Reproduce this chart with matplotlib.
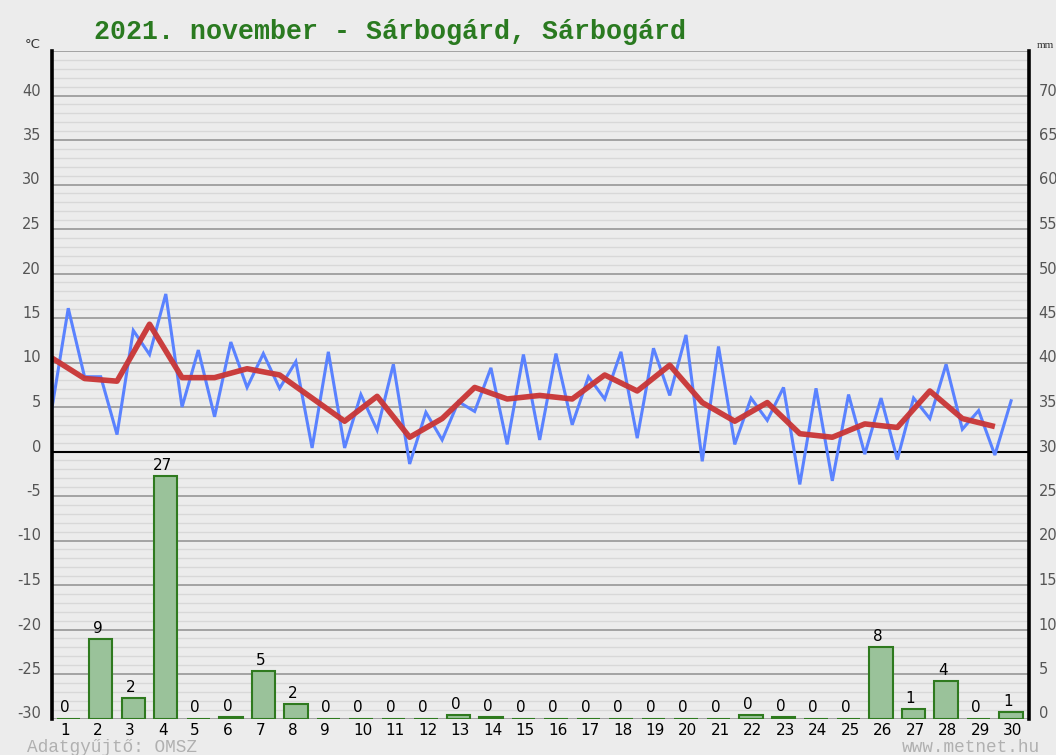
import matplotlib
matplotlib.use("Agg")
import matplotlib.pyplot as plt
from matplotlib.transforms import ScaledTranslation
import numpy as np

# ---- data ----
days = list(range(1, 31))
tmin = [4.9, 8.4, 1.9, 10.9, 5.0, 3.9, 7.2, 7.1, 0.4, 0.4,
        2.4, -1.4, 1.3, 4.5, 0.8, 1.3, 3.0, 5.9, 1.5, 6.3,
        -1.1, 0.8, 3.5, -3.7, -3.3, -0.3, -0.9, 3.7, 2.5, -0.4]
tmax = [16.1, 8.4, 13.6, 17.7, 11.4, 12.3, 11.0, 10.1, 11.2, 6.4,
        9.8, 4.4, 5.6, 9.4, 10.9, 11.0, 8.4, 11.2, 11.6, 13.1,
        11.8, 6.0, 7.2, 7.1, 6.4, 6.0, 6.0, 9.8, 4.6, 5.7]
tmean = [10.5, 8.2, 7.9, 14.3, 8.3, 8.3, 9.3, 8.6, 6.0, 3.4,
         6.2, 1.6, 3.7, 7.2, 5.9, 6.3, 5.9, 8.6, 6.8, 9.7,
         5.5, 3.4, 5.5, 2.0, 1.6, 3.1, 2.7, 6.8, 3.7, 2.8]
precip = [0, 8.9, 2.3, 27.3, 0, 0.2, 5.3, 1.6, 0, 0,
          0, 0, 0.4, 0.2, 0, 0, 0, 0, 0, 0,
          0, 0.4, 0.2, 0, 0, 8.0, 1.1, 4.2, 0, 0.7]
temp_ticks = list(range(-30, 45, 5))
title = "2021. november - Sárbogárd, Sárbogárd"

BG = "#ececec"
fig = plt.figure(figsize=(10.56, 7.55), dpi=100, facecolor=BG)
ax = fig.add_axes([52 / 1056, 1 - 718.5 / 755, (1029 - 52) / 1056, (718.5 - 51) / 755])
ax.set_facecolor(BG)

d = np.array(days, dtype=float)
xs = np.empty(60)
ys = np.empty(60)
xs[0::2] = d - 0.5
xs[1::2] = d
ys[0::2] = tmin
ys[1::2] = tmax

ax.set_xlim(0.5, 30.55)
ax.set_ylim(-30, 45)

# grid
for v in range(-30, 46):
    if v == 0:
        continue
    if v % 5 == 0:
        ax.axhline(v, color="#a3a3a3", lw=1.4, zorder=1)
    else:
        ax.axhline(v, color="#d8d8d8", lw=1.0, zorder=0.5)
ax.axhline(0, color="black", lw=1.5, zorder=2)

ax.plot(xs, ys, color="#5a82ff", lw=2.2, zorder=3, solid_joinstyle="miter")
ax.plot(d - 0.5, tmean, color="#c93535", lw=4.0, zorder=4, alpha=0.95,
        solid_joinstyle="round", solid_capstyle="butt")

for s in ["top", "bottom"]:
    ax.spines[s].set_visible(False)
for s in ["left", "right"]:
    ax.spines[s].set_linewidth(2.6)
    ax.spines[s].set_color("black")
    ax.spines[s].set_zorder(6)

up = ScaledTranslation(0, 6 / 100, fig.dpi_scale_trans)
ax.set_yticks(temp_ticks)
ax.set_yticklabels([str(t) for t in temp_ticks])
ax.tick_params(axis="y", length=0, pad=8, labelsize=10.5, labelcolor="#555555")
for lab in ax.get_yticklabels():
    lab.set_transform(lab.get_transform() + up)

ax.set_xticks(days)
ax.set_xticklabels([str(x) for x in days])
ax.tick_params(axis="x", length=0, pad=3, labelsize=11, labelcolor="black")
shift = ScaledTranslation(-8 / 100, 0, fig.dpi_scale_trans)
for lab in ax.get_xticklabels():
    lab.set_horizontalalignment("left")
    lab.set_transform(lab.get_transform() + shift)

# precipitation axis
ax2 = ax.twinx()
ax2.set_ylim(0, 75)
ax2.set_xlim(0.5, 30.55)
ax2.bar(days, precip, width=0.72, color="#9ac29a", edgecolor="#2f7a1f",
        linewidth=1.5, zorder=3)
lshift = ScaledTranslation(-3 / 100, 3 / 100, fig.dpi_scale_trans)
for x, v in zip(days, precip):
    ax2.text(x, v, f"{v:.0f}", ha="center", va="bottom", fontsize=11,
             color="black", transform=ax2.transData + lshift)
for s in ["top", "bottom", "left", "right"]:
    ax2.spines[s].set_visible(False)
rticks = list(range(0, 75, 5))
ax2.set_yticks(rticks)
ax2.set_yticklabels([str(t) for t in rticks])
ax2.tick_params(axis="y", length=0, pad=7, labelsize=10.5, labelcolor="#555555")
for lab in ax2.get_yticklabels():
    lab.set_transform(lab.get_transform() + up)

# texts
fig.text(94 / 1056, 1 - 32 / 755, title, fontsize=19.2, fontfamily="Liberation Mono",
         fontweight="bold", color="#2a7a20", ha="left", va="center")
fig.text(25 / 1056, 1 - 45 / 755, "°C", fontsize=9.5, color="#333333",
         ha="left", va="center")
fig.text(1037 / 1056, 1 - 46 / 755, "mm", fontsize=8, fontfamily="Liberation Serif",
         color="#333333", ha="left", va="center")
fig.text(27 / 1056, 1 - 747 / 755, "Adatgyűjtő: OMSZ", fontsize=12.8,
         fontfamily="Liberation Mono", color="#b0b0b0", ha="left", va="center")
fig.text(1040 / 1056, 1 - 747 / 755, "www.metnet.hu", fontsize=12.8,
         fontfamily="Liberation Mono", color="#b0b0b0", ha="right", va="center")

fig.savefig("out.png", dpi=100, facecolor=BG)
